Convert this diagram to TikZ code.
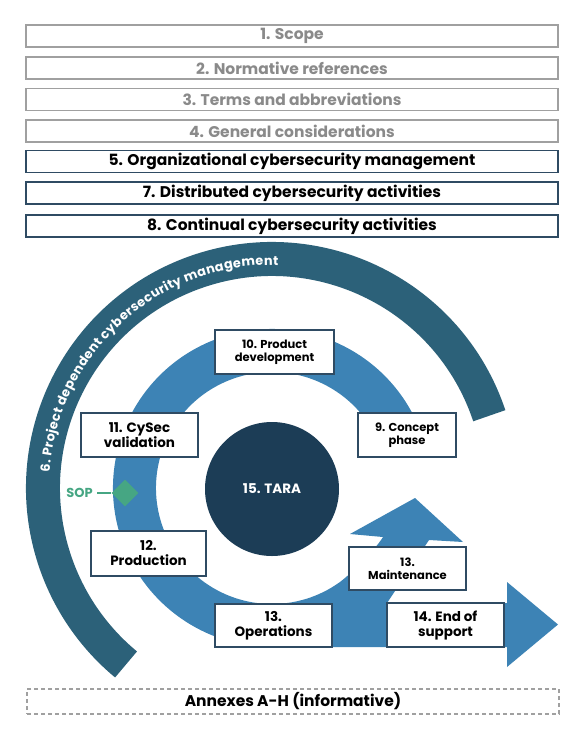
\documentclass[tikz,border=0pt]{standalone}
\usepackage{fontspec}
\setmainfont{Poppins}
\usetikzlibrary{calc,decorations.text,shapes.geometric}
\definecolor{arcteal}{HTML}{2C6179}
\definecolor{ringblue}{HTML}{3D83B5}
\definecolor{taranavy}{HTML}{1C3D56}
\definecolor{boxedge}{HTML}{2F4B63}
\definecolor{greyedge}{HTML}{A0A0A0}
\definecolor{greytext}{HTML}{8A8A8A}
\definecolor{sopgreen}{HTML}{46A683}
\tikzset{
  clausebox/.style={draw=boxedge, line width=1.2pt, fill=white, minimum width=532pt,
    minimum height=22pt, inner sep=0pt, font=\bfseries\fontsize{15.5}{17}\selectfont},
  greybox/.style={clausebox, draw=greyedge, text=greytext},
  phasebox/.style={draw=boxedge, line width=1.2pt, fill=white, inner sep=0pt, align=center,
    font=\bfseries\fontsize{13.5}{15}\selectfont},
  smallphase/.style={phasebox, font=\bfseries\fontsize{11.5}{13.5}\selectfont},
}
\begin{document}
\begin{tikzpicture}[x=1pt,y=1pt]
\useasboundingbox (0,0) rectangle (585,-729);
\fill[white] (0,0) rectangle (585,-729);

% clause list
\node[greybox] (c1) at (292,-36) {1. Scope};
\node[greybox] (c2) at (292,-68) {2. Normative references};
\node[greybox] (c3) at (292,-99.5) {3. Terms and abbreviations};
\node[greybox] (c4) at (292,-131) {4. General considerations};
\node[clausebox] (c5) at (292,-161.5) {5. Organizational cybersecurity management};
\node[clausebox] (c7) at (292,-193) {7. Distributed cybersecurity activities};
\node[clausebox] (c8) at (292,-226) {8. Continual cybersecurity activities};

\coordinate (C) at (272,-488);

% project dependent management arc
\draw[arcteal, line width=34pt] ($(C)+(18.4:229)$) arc[start angle=18.4, end angle=230.4, radius=229];
\path[decorate, decoration={text along path, text color=white, text align=fit to path,
  text={|\bfseries\fontsize{12.8}{14}\selectfont|6. Project dependent cybersecurity management}}]
  ($(C)+(176:223)$) arc[start angle=176, end angle=88.5, radius=223];

% lifecycle ring
\draw[ringblue, line width=43pt] ($(C)+(22:137.5)$) arc[start angle=22, end angle=272, radius=137.5];

% operations band with end-of-support and maintenance arrows
\fill[ringblue] (265,-647) -- (507,-647) -- (507,-667) -- (558,-624.5) -- (507,-582)
  -- (507,-603) -- (387,-603) -- (429,-540) -- (463,-542) -- (415,-498) -- (350,-534)
  -- (383,-537) .. controls (372.3,-553.9) and (348.3,-576.1) .. ($(C)+(305:116)$)
  arc[start angle=305, end angle=270, radius=116] -- (265,-604) -- cycle;

% TARA
\node[circle, fill=taranavy, minimum size=134pt, inner sep=0pt, text=white,
  font=\bfseries\fontsize{13.5}{15}\selectfont] (tara) at (272,-489) {15. TARA};

% phases
\node[smallphase, minimum width=119pt, minimum height=44pt] (p10) at (274.5,-352) {10. Product\\development};
\node[phasebox, minimum width=117pt, minimum height=44pt] (p11) at (139.5,-435) {11. CySec\\validation};
\node[smallphase, minimum width=98pt, minimum height=44pt] (p9) at (407,-435) {9. Concept\\phase};
\node[phasebox, minimum width=115pt, minimum height=45pt] (p12) at (148.5,-553.5) {12.\\Production};
\node[phasebox, minimum width=117pt, minimum height=43pt] (p13o) at (273.5,-625.5) {13.\\Operations};
\node[smallphase, minimum width=117pt, minimum height=43pt] (p13m) at (407.5,-568.5) {13.\\Maintenance};
\node[phasebox, minimum width=117pt, minimum height=44pt] (p14) at (445.5,-625) {14. End of\\support};

% start of production
\node[text=sopgreen, font=\bfseries\fontsize{13}{14}\selectfont, anchor=east, inner sep=0pt] (soplabel) at (93,-493) {SOP};
\node[diamond, fill=sopgreen, minimum width=27pt, minimum height=27pt, inner sep=0pt] (sop) at (125,-493) {};
\draw[sopgreen, line width=1.6pt, shorten <=4pt] (soplabel.east) -- (sop.west);

% annexes
\node[draw=greyedge, line width=1.2pt, dash pattern=on 4pt off 3pt, minimum width=532pt,
  minimum height=25pt, inner sep=0pt, font=\bfseries\fontsize{15.5}{16}\selectfont] (annex) at (293,-701.5) {Annexes A-H (informative)};
\end{tikzpicture}
\end{document}
